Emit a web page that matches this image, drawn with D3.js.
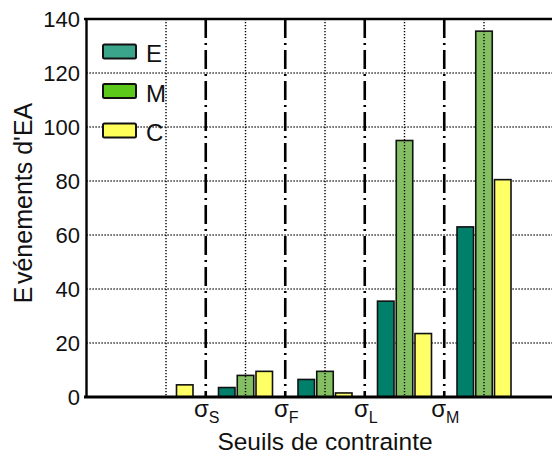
<!DOCTYPE html>
<html><head><meta charset="utf-8">
<script src="https://cdn.jsdelivr.net/npm/d3@7/dist/d3.min.js"></script>
<style>
html,body{margin:0;padding:0;background:#fff;}
svg{display:block;font-family:"Liberation Sans",Arial,sans-serif;}
</style></head>
<body><svg id="c" width="552" height="455"></svg>
<script>
// ---- data ----
const groups = [1, 2, 3, 4, 5];
const series = ["E", "M", "C"];
const valuesE = [0, 3.5, 6.5, 35.5, 63];
const valuesM = [0, 8, 9.5, 95, 135.5];
const valuesC = [4.5, 9.5, 1.5, 23.5, 80.5];
const yTicks = [0, 20, 40, 60, 80, 100, 120, 140];
const thresholds = [1.5, 2.5, 3.5, 4.5];
const thresholdSubs = ["S", "F", "L", "M"];
const barColors = {E: "#00806a", M: "#84c063", C: "#ffff66"};
const legendColors = {E: "#3aa58a", M: "#5cc81a", C: "#ffff5a"};

const svg = d3.select("#c");
const x = d3.scaleLinear().domain([0, 6]).range([86.5, 563.5]);
const y = d3.scaleLinear().domain([0, 140]).range([397, 19]);
const inner = d3.scaleBand().domain(series).range([-27, 27]).paddingInner(0.12);
const vals = {E: valuesE, M: valuesM, C: valuesC};

// horizontal gridlines
svg.append("g").selectAll("line").data(yTicks.filter(t => t > 0 && t < 140)).join("line")
  .attr("x1", x(0)).attr("x2", 552).attr("y1", d => y(d)).attr("y2", d => y(d))
  .attr("stroke", "#000").attr("stroke-width", 1.4).attr("stroke-dasharray", "1.2,1.8");

// dash-dot threshold lines
svg.append("g").selectAll("line").data(thresholds).join("line")
  .attr("x1", d => x(d)).attr("x2", d => x(d)).attr("y1", y(140)).attr("y2", y(0))
  .attr("stroke", "#000").attr("stroke-width", 2.6).attr("stroke-dasharray", "19,5,2,5");

// bars
const flat = [];
groups.forEach((g, i) => series.forEach(s => flat.push({g, s, v: vals[s][i]})));
svg.append("g").selectAll("rect").data(flat.filter(d => d.v > 0)).join("rect")
  .attr("x", d => x(d.g) + inner(d.s))
  .attr("width", inner.bandwidth())
  .attr("y", d => y(d.v))
  .attr("height", d => y(0) - y(d.v))
  .attr("fill", d => barColors[d.s])
  .attr("stroke", "#111").attr("stroke-width", 1.6);

// vertical dotted gridlines (drawn over bars)
svg.append("g").selectAll("line").data(groups).join("line")
  .attr("x1", d => x(d)).attr("x2", d => x(d)).attr("y1", y(140)).attr("y2", y(0))
  .attr("stroke", "#000").attr("stroke-width", 1.4).attr("stroke-dasharray", "1.2,1.8");

// axes frame
svg.append("line").attr("x1", 84).attr("x2", 552).attr("y1", y(140)).attr("y2", y(140))
  .attr("stroke", "#000").attr("stroke-width", 2.4);
svg.append("line").attr("x1", 84).attr("x2", 552).attr("y1", y(0)).attr("y2", y(0))
  .attr("stroke", "#000").attr("stroke-width", 3);
svg.append("line").attr("x1", x(0)).attr("x2", x(0)).attr("y1", y(140) - 1).attr("y2", y(0) + 1)
  .attr("stroke", "#000").attr("stroke-width", 2.4);

// y tick labels
svg.append("g").selectAll("text").data(yTicks).join("text")
  .attr("x", 80).attr("y", d => y(d)).attr("dy", "0.36em")
  .attr("text-anchor", "end").attr("font-size", 22).attr("fill", "#111")
  .text(d => d);

// threshold labels
const tl = svg.append("g").selectAll("text").data(thresholds).join("text")
  .attr("x", d => x(d) + 1).attr("y", 417).attr("text-anchor", "middle")
  .attr("font-size", 24).attr("fill", "#111");
tl.append("tspan").text("σ");
tl.append("tspan").attr("dy", 6).attr("font-size", 16).text((d, i) => thresholdSubs[i]);

// axis titles
svg.append("text").attr("x", 325).attr("y", 450).attr("text-anchor", "middle")
  .attr("font-size", 24.5).attr("fill", "#111").text("Seuils de contrainte");
const yt = svg.append("text").attr("transform", "translate(32,203) rotate(-90)")
  .attr("text-anchor", "middle").attr("font-size", 25).attr("fill", "#111");
yt.append("tspan").text("E");
yt.append("tspan").attr("dx", 2.5).text("vénements d'EA");

// legend
const lg = svg.append("g").selectAll("g").data(series).join("g")
  .attr("transform", (d, i) => `translate(103,${44.5 + i * 39.5})`);
lg.append("rect").attr("width", 33).attr("height", 14).attr("rx", 1.5)
  .attr("fill", d => legendColors[d]).attr("stroke", "#111").attr("stroke-width", 2);
lg.append("text").attr("x", 43).attr("y", 17.5).attr("font-size", 24).attr("fill", "#111")
  .text(d => d);
</script>
</body></html>
